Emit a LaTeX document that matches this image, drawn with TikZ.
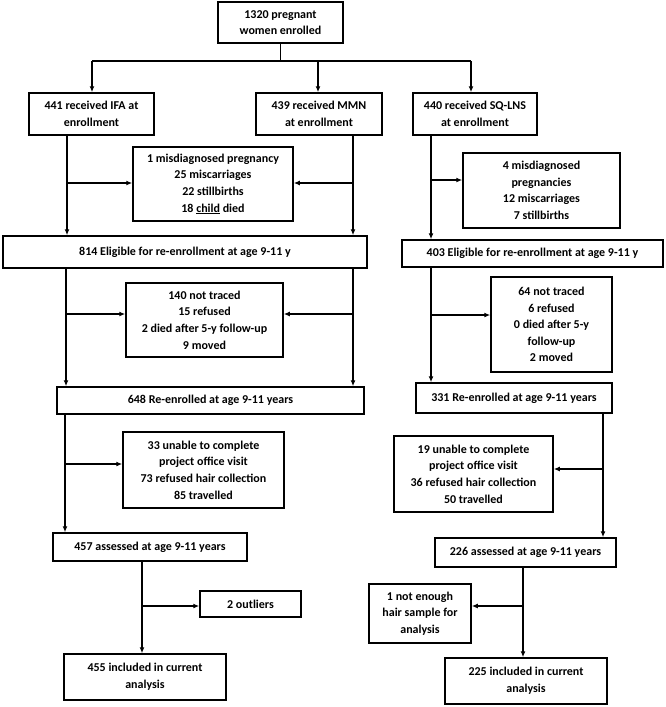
\documentclass[tikz,border=0pt]{standalone}
\usepackage{fontspec}
\setmainfont{Carlito}
\usetikzlibrary{arrows.meta}
\begin{document}
\begin{tikzpicture}[x=1pt,y=-1pt,
  box/.style={draw=black, line width=1.5pt, fill=white, align=center, inner sep=0pt,
    font={\fontsize{12pt}{16.6pt}\selectfont\bfseries}},
  conn/.style={draw=black, line width=1.2pt},
  arr/.style={conn, -{Latex[length=6pt,width=5pt]}}]
\fill[white] (0,0) rectangle (666,707);
\useasboundingbox (0,0) rectangle (666,707);

% boxes
\node[box, minimum width=125pt, minimum height=41pt] (top) at (280.5,22.5) {1320 pregnant\\women enrolled};
\node[box, minimum width=125pt, minimum height=42pt] (ifa) at (91.5,114) {441 received IFA at\\enrollment};
\node[box, minimum width=126pt, minimum height=42pt] (mmn) at (319,114) {439 received MMN\\at enrollment};
\node[box, minimum width=124pt, minimum height=42pt] (sq) at (475,114) {440 received SQ-LNS\\at enrollment};
\node[box, minimum width=160pt, minimum height=74pt] (ex1) at (213,184) {1 misdiagnosed pregnancy\\25 miscarriages\\22 stillbirths\\18 \underline{child} died};
\node[box, minimum width=157pt, minimum height=75pt] (ex2) at (541.5,190.5) {4 misdiagnosed\\pregnancies\\12 miscarriages\\7 stillbirths};
\node[box, minimum width=364pt, minimum height=32pt] (elig1) at (185,252) {814 Eligible for re-enrollment at age 9-11 y};
\node[box, minimum width=261pt, minimum height=27pt] (elig2) at (532.5,253.5) {403 Eligible for re-enrollment at age 9-11 y};
\node[box, minimum width=157pt, minimum height=74pt] (ex3) at (204.5,320) {140 not traced\\15 refused\\2 died after 5-y follow-up\\9 moved};
\node[box, minimum width=121pt, minimum height=95pt] (ex4) at (551.5,324.5) {64 not traced\\6 refused\\0 died after 5-y\\follow-up\\2 moved};
\node[box, minimum width=307pt, minimum height=27pt] (re1) at (210.5,400.5) {648 Re-enrolled at age 9-11 years};
\node[box, minimum width=196pt, minimum height=30pt] (re2) at (514,398) {331 Re-enrolled at age 9-11 years};
\node[box, minimum width=161pt, minimum height=76pt] (ex5) at (203.5,470) {33 unable to complete\\project office visit\\73 refused hair collection\\85 travelled};
\node[box, minimum width=159pt, minimum height=76pt] (ex6) at (473.5,474) {19 unable to complete\\project office visit\\36 refused hair collection\\50 travelled};
\node[box, minimum width=194pt, minimum height=28pt] (as1) at (150,547) {457 assessed at age 9-11 years};
\node[box, minimum width=181pt, minimum height=29pt] (as2) at (525.5,552.5) {226 assessed at age 9-11 years};
\node[box, minimum width=101pt, minimum height=26pt] (ex7) at (250.5,604) {2 outliers};
\node[box, minimum width=102pt, minimum height=59pt] (ex8) at (420,613.5) {1 not enough\\hair sample for\\analysis};
\node[box, minimum width=162pt, minimum height=46pt] (inc1) at (145,677) {455 included in current\\analysis};
\node[box, minimum width=162pt, minimum height=46pt] (inc2) at (526,681) {225 included in current\\analysis};

% junctions
\coordinate (j0) at (280.5,61);
\coordinate (jL) at (92,61);
\coordinate (jM) at (318,61);
\coordinate (jR) at (471,61);
\coordinate (a1) at (67,183);
\coordinate (a2) at (353,183);
\coordinate (a3) at (431,180);
\coordinate (b1) at (66,314);
\coordinate (b2) at (353,314);
\coordinate (b3) at (431,315);
\coordinate (c1) at (65,464);
\coordinate (c2) at (603,469);
\coordinate (d1) at (142,606);
\coordinate (d2) at (523,606);

% connectors
\draw[conn] (top.south) -- (j0);
\draw[conn] (jL) -- (jR);
\draw[arr] (jL) -- (jL |- ifa.north);
\draw[arr] (jM) -- (jM |- mmn.north);
\draw[arr] (jR) -- (jR |- sq.north);

\draw[arr] (a1 |- ifa.south) -- (a1 |- elig1.north);
\draw[arr] (a1) -- (a1 -| ex1.west);
\draw[arr] (a2 |- mmn.south) -- (a2 |- elig1.north);
\draw[arr] (a2) -- (a2 -| ex1.east);
\draw[arr] (a3 |- sq.south) -- (a3 |- elig2.north);
\draw[arr] (a3) -- (a3 -| ex2.west);

\draw[arr] (b1 |- elig1.south) -- (b1 |- re1.north);
\draw[arr] (b1) -- (b1 -| ex3.west);
\draw[arr] (b2 |- elig1.south) -- (b2 |- re1.north);
\draw[arr] (b2) -- (b2 -| ex3.east);
\draw[arr] (b3 |- elig2.south) -- (b3 |- re2.north);
\draw[arr] (b3) -- (b3 -| ex4.west);

\draw[arr] (c1 |- re1.south) -- (c1 |- as1.north);
\draw[arr] (c1) -- (c1 -| ex5.west);
\draw[arr] (c2 |- re2.south) -- (c2 |- as2.north);
\draw[arr] (c2) -- (c2 -| ex6.east);

\draw[arr] (d1 |- as1.south) -- (d1 |- inc1.north);
\draw[arr] (d1) -- (d1 -| ex7.west);
\draw[arr] (d2 |- as2.south) -- (d2 |- inc2.north);
\draw[arr] (d2) -- (d2 -| ex8.east);
\end{tikzpicture}
\end{document}
